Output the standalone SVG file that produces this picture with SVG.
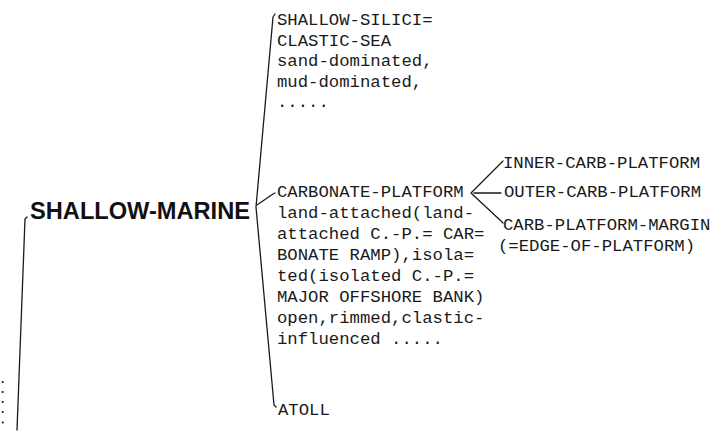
<svg xmlns="http://www.w3.org/2000/svg" width="720" height="434" viewBox="0 0 720 434">
<style>
.t{font-family:"Liberation Mono","Courier New",monospace;font-size:17.3px;fill:#1a1a1a}
.b{font-family:"Liberation Sans",Arial,sans-serif;font-size:24px;font-weight:bold;fill:#111}
.c{fill:none;stroke:#1a1a1a;stroke-width:1.3;stroke-linecap:round;stroke-linejoin:round}
</style>
<rect width="720" height="434" fill="#fff"/>
<g id="connectors">
<path class="c" d="M27,217 L25,219 L17,430"/>
<path class="c" d="M275,14 L273,17 L256,207 L274,405 L276,407"/>
<path class="c" d="M257,205 L273,194 L275,193"/>
<path class="c" d="M503,161 L501,163 L471,193 L501,221 L503,223"/>
<path class="c" d="M474,193 L501,193"/>
</g>
<g id="more-dots" fill="#1a1a1a">
<circle cx="2.7" cy="382" r="1.1"/>
<circle cx="2.7" cy="392" r="1.1"/>
<circle cx="2.7" cy="402" r="1.1"/>
<circle cx="2.7" cy="412" r="1.1"/>
<circle cx="2.7" cy="422.5" r="1.1"/>
</g>
<g id="shallow-marine">
<text class="b" x="30" y="219" textLength="220" lengthAdjust="spacingAndGlyphs">SHALLOW-MARINE</text>
</g>
<g id="shallow-siliciclastic-sea">
<text class="t" x="277" y="25">SHALLOW-SILICI=</text>
<text class="t" x="277" y="45.5">CLASTIC-SEA</text>
<text class="t" x="277" y="66">sand-dominated,</text>
<text class="t" x="277" y="86.5">mud-dominated,</text>
<text class="t" x="277" y="107">.....</text>
</g>
<g id="carbonate-platform">
<text class="t" x="277" y="197">CARBONATE-PLATFORM</text>
<text class="t" x="277" y="218">land-attached(land-</text>
<text class="t" x="277" y="239">attached C.-P.= CAR=</text>
<text class="t" x="277" y="260">BONATE RAMP),isola=</text>
<text class="t" x="277" y="281">ted(isolated C.-P.=</text>
<text class="t" x="277" y="302">MAJOR OFFSHORE BANK)</text>
<text class="t" x="277" y="323">open,rimmed,clastic-</text>
<text class="t" x="277" y="344">influenced .....</text>
</g>
<g id="atoll">
<text class="t" x="278" y="415">ATOLL</text>
</g>
<g id="inner-carb-platform">
<text class="t" x="503" y="168">INNER-CARB-PLATFORM</text>
</g>
<g id="outer-carb-platform">
<text class="t" x="504" y="197">OUTER-CARB-PLATFORM</text>
</g>
<g id="carb-platform-margin">
<text class="t" x="503" y="230">CARB-PLATFORM-MARGIN</text>
<text class="t" x="498" y="251">(=EDGE-OF-PLATFORM)</text>
</g>
</svg>
